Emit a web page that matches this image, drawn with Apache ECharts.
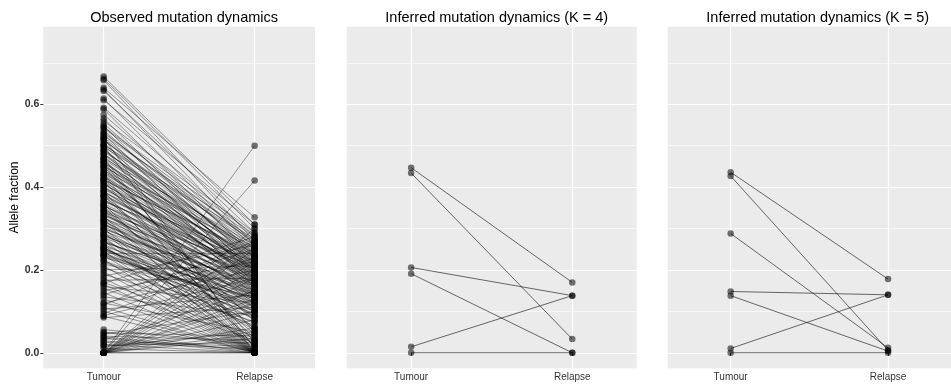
<!DOCTYPE html>
<html><head><meta charset="utf-8">
<script src="https://cdn.jsdelivr.net/npm/echarts@6/dist/echarts.min.js"></script>
<style>html,body{margin:0;padding:0;background:#fff}#c{width:951px;height:387px}</style>
</head><body><div id="c"></div>
<script>
const categories = ['Tumour', 'Relapse'];
const yTicks = [0, 0.2, 0.4, 0.6];
const yMinor = [0.1, 0.3, 0.5, 0.7];
const titles = ['Observed mutation dynamics', 'Inferred mutation dynamics (K = 4)', 'Inferred mutation dynamics (K = 5)'];

// Observed: tumour / relapse allele fractions, paired by index
const obsTumour = [
0.667,0.662,0.658,0.640,0.636,0.632,0.614,0.610,0.592,0.588,0.575,0.566,0.560,0.553,0.548,0.543,0.538,0.533,0.528,0.524,
0.520,0.516,0.512,0.508,0.504,0.500,0.497,0.493,0.489,0.486,0.482,0.478,0.474,0.470,0.466,0.462,0.458,0.455,0.451,0.447,
0.443,0.440,0.436,0.432,0.428,0.425,0.421,0.417,0.413,0.410,0.406,0.402,0.398,0.395,0.391,0.387,0.383,0.380,0.376,0.372,
0.369,0.365,0.361,0.357,0.354,0.350,0.346,0.342,0.339,0.335,0.331,0.327,0.324,0.320,0.316,0.312,0.308,0.305,0.301,0.297,
0.293,0.289,0.286,0.282,0.278,0.274,0.270,0.266,0.262,0.258,0.254,0.250,0.246,0.242,0.238,0.234,0.230,
0.545,0.530,0.515,0.502,0.490,0.480,0.468,0.460,0.449,0.438,0.430,0.419,0.408,0.400,0.389,0.378,0.367,0.356,0.344,0.333,
0.322,0.310,0.299,0.284,0.268,0.252,0.236,0.222,0.214,0.205,
0.240,0.200,0.185,0.175,0.168,0.160,0.150,0.140,0.135,0.120,0.115,0.105,0.095,0.090,0.085,
0.520,0.470,0.430,0.390,0.360,0.330,0.300,0.280,0.260,0.245,0.225,0.210,0.195,0.180,0.165,0.145,0.130,0.110,0.100,0.088,
0.500,0.460,0.415,0.350,0.315,0.290,0.255,0.235,0.190,0.155,
0.450,0.380,0.320,0.270,0.220,0.170,0.120,0.420,0.340,0.250,
0,0,0,0,0,0,0,0,0,0,0,0,0,0,0,0,0,0,
0.056,0.050,0.045,0.040,0.035,0.030,0.025,0.020,0.015,0.010,0.048,0.028,0.038,0.018
];
const obsRelapse = [
0.310,0.300,0.270,0.327,0.260,0.290,0.250,0.310,0.280,0.230,0.260,0.210,0.290,0.240,0.190,0.270,0.220,0.250,0.180,0.280,
0.230,0.200,0.260,0.160,0.240,0.210,0.270,0.190,0.230,0.250,0.170,0.220,0.200,0.260,0.150,0.210,0.240,0.180,0.220,0.200,
0.160,0.250,0.190,0.230,0.140,0.210,0.180,0.240,0.200,0.170,0.220,0.130,0.190,0.210,0.160,0.230,0.180,0.200,0.150,0.120,
0.190,0.220,0.170,0.140,0.200,0.160,0.180,0.110,0.210,0.150,0.170,0.130,0.190,0.100,0.160,0.140,0.180,0.120,0.150,0.090,
0.170,0.130,0.110,0.160,0.140,0.080,0.120,0.150,0.100,0.130,0.070,0.110,0.140,0.090,0.120,0.100,0.130,
0.285,0.265,0.235,0.275,0.215,0.245,0.225,0.195,0.255,0.205,0.175,0.235,0.185,0.215,0.165,0.195,0.205,0.175,0.145,0.185,
0.155,0.135,0.165,0.125,0.145,0.105,0.115,0.095,0.135,0.085,
0.240,0.210,0.260,0.180,0.280,0.120,0.220,0.250,0.090,0.200,0.270,0.140,0.230,0.180,0.110,
0,0,0,0,0,0,0,0,0,0,0,0,0,0,0,0,0,0,0,0,
0.010,0.025,0.015,0.045,0.030,0.010,0.055,0.020,0.075,0.030,
0.050,0.035,0.060,0.020,0.065,0.040,0.050,0.075,0.085,0.060,
0.500,0.416,0.300,0.270,0.220,0.180,0.150,0.130,0.100,0.080,0.060,0.035,0,0,0.250,0.200,0.120,0.045,
0.020,0,0.100,0.030,0,0.150,0.010,0,0.050,0,0.040,0.015,0.005,0.025
];
// Inferred K = 4
const k4Tumour = [0.447, 0.434, 0.206, 0.191, 0.0145, 0];
const k4Relapse = [0.170, 0.033, 0.138, 0, 0.138, 0];
// Inferred K = 5
const k5Tumour = [0.436, 0.427, 0.288, 0.148, 0.138, 0.0104, 0];
const k5Relapse = [0.178, 0.006, 0.012, 0.140, 0.004, 0.140, 0];

const FONT = "'Liberation Sans', Arial, Helvetica, sans-serif";
const chart = echarts.init(document.getElementById('c'), null, {renderer: 'canvas'});

const panels = [
  {t: obsTumour, r: obsRelapse, left: 43.3, width: 271.7, lineColor: 'rgba(0,0,0,0.52)', lineWidth: 0.75},
  {t: k4Tumour, r: k4Relapse, left: 346.7, width: 290, lineColor: 'rgba(0,0,0,0.68)', lineWidth: 0.85},
  {t: k5Tumour, r: k5Relapse, left: 667.7, width: 290, lineColor: 'rgba(0,0,0,0.68)', lineWidth: 0.85}
];
const TOP = 26.7, HEIGHT = 341.6;
const YMIN = -0.0375, YMAX = 0.7875;

const grid = [], xAxis = [], yAxis = [], series = [], title = [];
panels.forEach((p, i) => {
  grid.push({left: p.left, top: TOP, width: p.width, height: HEIGHT, show: true,
    backgroundColor: '#EBEBEB', borderWidth: 0, containLabel: false});
  title.push({text: titles[i], left: p.left + p.width / 2, top: 5, textAlign: 'center',
    textStyle: {fontFamily: FONT, fontSize: 14.5, fontWeight: 'normal', color: '#000'}});
  xAxis.push({type: 'value', gridIndex: i, min: 0.6, max: 2.4,
    axisLine: {show: false},
    axisTick: {show: true, length: 3, customValues: [1, 2], lineStyle: {color: '#333', width: 1}},
    axisLabel: {customValues: [1, 2], margin: 4, fontFamily: FONT, fontSize: 10, color: '#333',
      formatter: v => categories[Math.round(v) - 1] || ''},
    splitLine: {show: true, lineStyle: {color: '#fff', width: 1.2}}});
  yAxis.push({type: 'value', gridIndex: i, min: YMIN, max: YMAX,
    axisLine: {show: false},
    axisTick: {show: i === 0, length: 3, customValues: yTicks, lineStyle: {color: '#333', width: 1}},
    axisLabel: {show: i === 0, customValues: yTicks, margin: 4, fontFamily: FONT, fontSize: 10.5,
      fontWeight: 'bold', color: '#333', formatter: v => v.toFixed(1)},
    name: i === 0 ? 'Allele fraction' : '', nameLocation: 'middle', nameRotate: 90, nameGap: 22,
    nameTextStyle: {fontFamily: FONT, fontSize: 12, color: '#000'},
    splitLine: {show: true, lineStyle: {color: '#fff', width: 1.2}}});
});
panels.forEach((p, i) => {
  yAxis.push({type: 'value', gridIndex: i, min: YMIN, max: YMAX, position: 'right',
    axisLine: {show: false},
    axisTick: {show: false, customValues: yMinor},
    axisLabel: {show: false, customValues: yMinor},
    splitLine: {show: true, lineStyle: {color: '#fff', width: 0.6}}});
});

panels.forEach((p, i) => {
  for (let k = 0; k < p.t.length; k++) {
    series.push({type: 'line', xAxisIndex: i, yAxisIndex: i, silent: true, symbol: 'none',
      animation: false, z: 2,
      lineStyle: {color: p.lineColor, width: p.lineWidth},
      data: [[1, p.t[k]], [2, p.r[k]]]});
  }
  const pts = [];
  for (let k = 0; k < p.t.length; k++) { pts.push([1, p.t[k]]); pts.push([2, p.r[k]]); }
  series.push({type: 'scatter', xAxisIndex: i, yAxisIndex: i, silent: true, animation: false, z: 3,
    symbol: 'circle', symbolSize: 6.5,
    itemStyle: {color: 'rgba(0,0,0,0.68)', borderWidth: 0},
    data: pts});
});

chart.setOption({animation: false, backgroundColor: '#fff', title, grid, xAxis, yAxis, series});
</script></body></html>
